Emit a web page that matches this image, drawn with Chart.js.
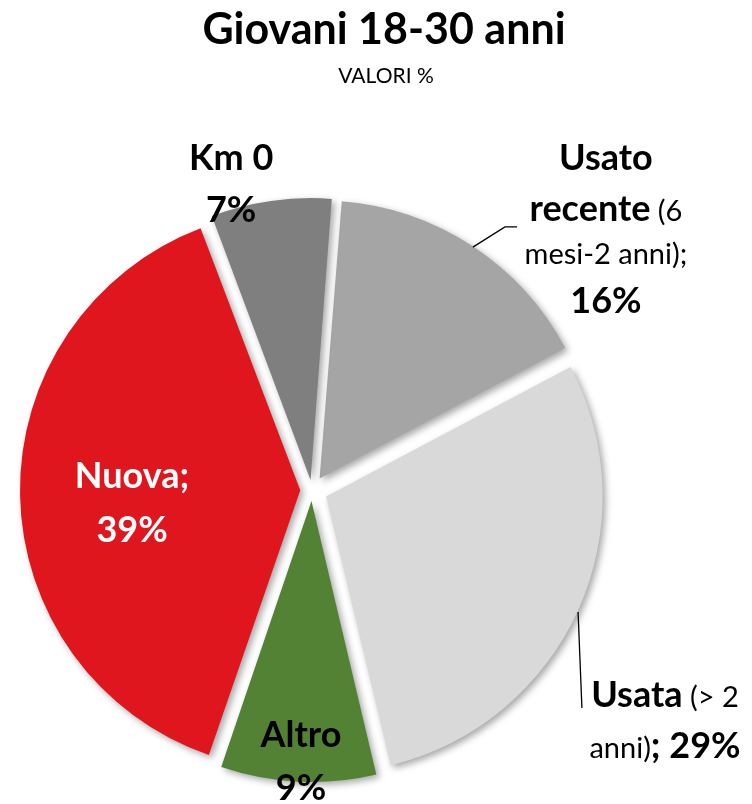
<!DOCTYPE html>
<html>
<head>
<meta charset="utf-8">
<script src="https://cdn.jsdelivr.net/npm/chart.js@4.4.1/dist/chart.umd.min.js"></script>
<style>
  body { margin: 0; background: #fff; }
  #wrap { width: 752px; height: 804px; }
</style>
</head>
<body>
<div id="wrap"><canvas id="chart" width="752" height="804"></canvas></div>
<script>
const categories = ['Usato recente (6 mesi-2 anni)', 'Usata (> 2 anni)', 'Altro', 'Nuova', 'Km 0'];
const values = [16, 29, 9, 39, 7];
const colors = ['#a5a5a5', '#d9d9d9', '#548235', '#e0161f', '#7f7f7f'];
const titleText = 'Giovani 18-30 anni';
const subtitleText = 'VALORI %';

// righe delle etichette: [testo, grassetto], {v} = valore
const labelLines = [
  [[['Usato', true]], [['recente', true], [' (6', false]], [['mesi-2 anni);', false]], [['{v}%', true]]],
  [[['Usata', true], [' (> 2', false]], [['anni)', false], ['; {v}%', true]]],
  [[['Altro', true]], [['{v}%', true]]],
  [[['Nuova;', true]], [['{v}%', true]]],
  [[['Km 0', true]], [['{v}%', true]]]
];

// posizione etichette in unità di raggio dal centro della torta
const labelSpots = [
  { dx: 1.065, dy: -1.159, lh: [51, 43, 49], color: '#000', leader: [[0.583, -0.880], [0.699, -0.953], [0.743, -0.953]] },
  { dx: 1.279, dy: 0.786, lh: [51], color: '#000', leader: [[0.964, 0.442], [0.978, 0.790]] },
  { dx: -0.040, dy: 0.931, lh: [53], color: '#000' },
  { dx: -0.652, dy: -0.007, lh: [54], color: '#fff' },
  { dx: -0.293, dy: -1.159, lh: [52], color: '#000' }
];

const FONT = 'Lato, "Open Sans", sans-serif';
const BOLD = 'bold 36px ' + FONT;
const REG = '29px ' + FONT;

const total = values.reduce((a, b) => a + b, 0);

// Chart.js sposta l'arco di offset/4*(1+fix): qui si compensa per avere ~16px per tutti
function sliceOffset(c) {
  const circ = c.raw / total * 2 * Math.PI;
  const fix = 1 - Math.sin(Math.min(Math.PI, circ));
  return 64 / (1 + fix);
}

const shadowPlugin = {
  id: 'shadow',
  beforeDatasetsDraw(chart) {
    const ctx = chart.ctx;
    ctx.save();
    ctx.shadowColor = 'rgba(0,0,0,0.35)';
    ctx.shadowBlur = 7;
    ctx.shadowOffsetX = 3;
    ctx.shadowOffsetY = 3;
  },
  afterDatasetsDraw(chart) {
    chart.ctx.restore();
  }
};

function drawRuns(ctx, runs, cx, y, color, v) {
  const parts = runs.map(r => ({ text: r[0].replace('{v}', v), font: r[1] ? BOLD : REG }));
  let w = 0;
  parts.forEach(p => { ctx.font = p.font; p.w = ctx.measureText(p.text).width; w += p.w; });
  let x = cx - w / 2;
  ctx.fillStyle = color;
  ctx.textAlign = 'left';
  ctx.textBaseline = 'alphabetic';
  parts.forEach(p => { ctx.font = p.font; ctx.fillText(p.text, x, y); x += p.w; });
}

const textPlugin = {
  id: 'texts',
  afterDraw(chart) {
    const ctx = chart.ctx;
    ctx.save();
    ctx.fillStyle = '#000';
    ctx.textAlign = 'center';
    ctx.textBaseline = 'alphabetic';
    ctx.font = 'bold 43px ' + FONT;
    ctx.fillText(titleText, 384, 44);
    ctx.font = '21px ' + FONT;
    ctx.fillText(subtitleText, 386, 83);

    const meta = chart.getDatasetMeta(0);
    meta.data.forEach((arc, i) => {
      const { x, y, outerRadius: r } = arc.getProps(['x', 'y', 'outerRadius'], true);
      const spot = labelSpots[i];
      if (spot.leader) {
        ctx.strokeStyle = '#000';
        ctx.lineWidth = 1.3;
        ctx.beginPath();
        spot.leader.forEach((p, k) => {
          const px = x + p[0] * r, py = y + p[1] * r;
          if (k === 0) ctx.moveTo(px, py); else ctx.lineTo(px, py);
        });
        ctx.stroke();
      }
      const cx = x + spot.dx * r;
      let cy = y + spot.dy * r;
      labelLines[i].forEach((runs, k) => {
        drawRuns(ctx, runs, cx, cy, spot.color, values[i]);
        cy += spot.lh[Math.min(k, spot.lh.length - 1)];
      });
    });
    ctx.restore();
  }
};

const ctx = document.getElementById('chart').getContext('2d');
const chart = new Chart(ctx, {
  type: 'pie',
  data: {
    labels: categories,
    datasets: [{
      data: values,
      backgroundColor: colors,
      borderWidth: 0,
      offset: sliceOffset
    }]
  },
  options: {
    responsive: false,
    animation: false,
    rotation: 4.5,
    radius: 276,
    layout: { padding: { top: 176, right: 128, bottom: 0, left: 0 } },
    plugins: {
      legend: { display: false },
      tooltip: { enabled: false },
      title: { display: false }
    }
  },
  plugins: [shadowPlugin, textPlugin]
});
</script>
</body>
</html>
